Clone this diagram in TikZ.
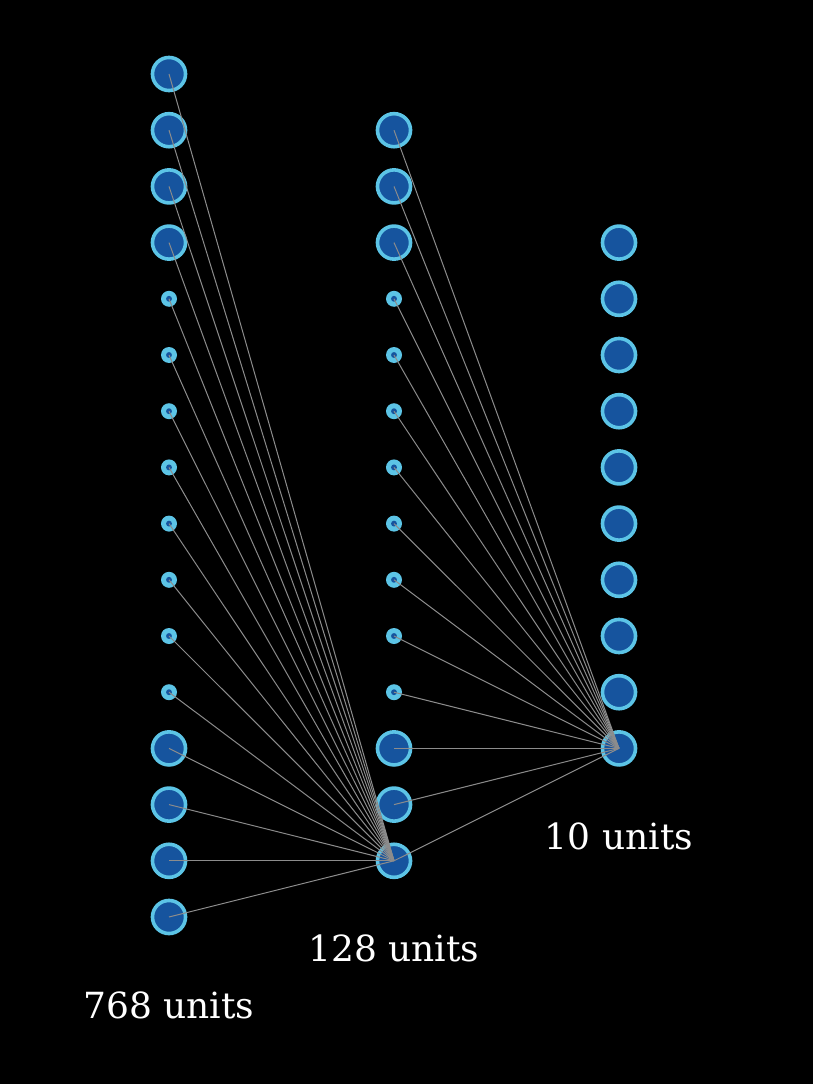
\documentclass[tikz,border=0pt]{standalone}
\usepackage{fontspec}
\setmainfont{DejaVu Serif}
\definecolor{unitfill}{RGB}{22,84,158}
\definecolor{unitring}{RGB}{92,196,230}
\definecolor{wire}{RGB}{140,140,140}
\begin{document}
\begin{tikzpicture}[x=0.75pt, y=-0.75pt,
    bigunit/.style={circle, draw=unitring, fill=unitfill, line width=2.7pt, minimum size=24.8pt, inner sep=0pt},
    smallunit/.style={circle, fill=unitring, minimum size=12pt, inner sep=0pt,
        path picture={\fill[unitfill] (path picture bounding box.center) circle (2.2pt);}},
    layername/.style={text=white, anchor=base, font=\fontsize{27}{31}\selectfont}]
    \fill[black] (0,0) rectangle (813,1084);
    \useasboundingbox (0,0) rectangle (813,1084);

    % Nodes
    \foreach \r in {0,...,15} {
        \ifnum\r>3 \ifnum\r<12 \def\kind{smallunit}\else\def\kind{bigunit}\fi\else\def\kind{bigunit}\fi
        \node (in\r) [\kind] at (169, 74+56.2*\r) {};
    }
    \foreach \r in {1,...,14} {
        \ifnum\r>3 \ifnum\r<12 \def\kind{smallunit}\else\def\kind{bigunit}\fi\else\def\kind{bigunit}\fi
        \node (hid\r) [\kind] at (394, 74+56.2*\r) {};
    }
    \foreach \r in {3,...,12}
        \node (out\r) [bigunit] at (619, 74+56.2*\r) {};

    % Wires
    \foreach \r in {0,...,15}
        \draw[wire, line width=0.75pt] (in\r.center) -- (hid14.center);
    \foreach \r in {1,...,14}
        \draw[wire, line width=0.75pt] (hid\r.center) -- (out12.center);

    % Labels
    \node (inlabel) [layername] at (169, 1018) {768 units};
    \node (hidlabel) [layername] at (394, 961) {128 units};
    \node (outlabel) [layername] at (619, 849) {10 units};
\end{tikzpicture}
\end{document}
